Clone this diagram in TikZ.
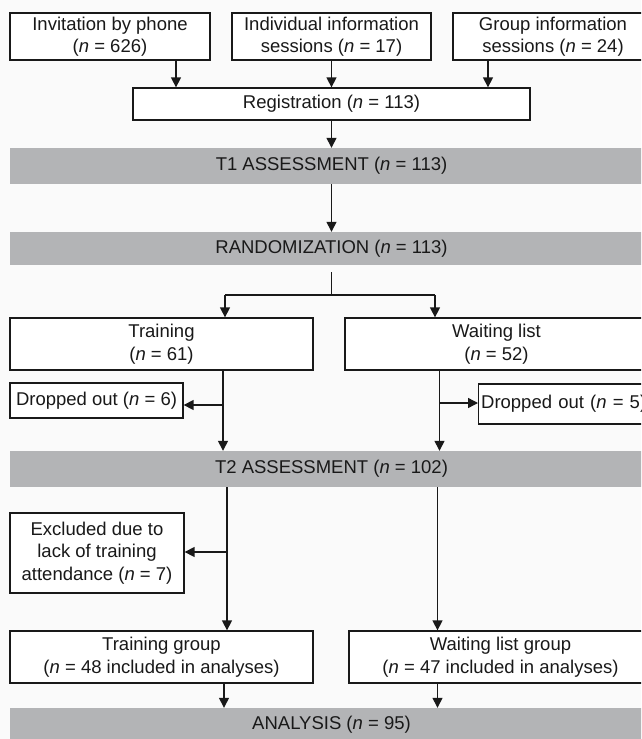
\documentclass[tikz,border=0pt]{standalone}
\usepackage{fontspec}
\setmainfont{Liberation Sans}
\usetikzlibrary{arrows.meta}
\definecolor{bandgray}{RGB}{179,180,182}
\definecolor{bgwhite}{RGB}{250,250,250}
\definecolor{ink}{RGB}{25,25,25}
\begin{document}
\begin{tikzpicture}[x=1pt,y=-1pt,
  every node/.style={font=\fontsize{18.5}{22.5}\selectfont, text=ink},
  box/.style={draw=ink, line width=1.3pt, fill=white, align=center, inner sep=0pt},
  band/.style={fill=bandgray, draw=none, inner sep=0pt, minimum width=643pt},
  arr/.style={draw=ink, line width=1.4pt, -{Triangle[width=10pt,length=10pt]}},
  ln/.style={draw=ink, line width=1.4pt}]
\useasboundingbox (0,0) rectangle (641,739);
\clip (0,0) rectangle (641,739);
\fill[bgwhite] (0,0) rectangle (641,739);

% top boxes
\node[box, minimum width=200pt, minimum height=47pt] (b1) at (110,36.5) {Invitation by phone\\(\textit{n} = 626)};
\node[box, minimum width=199pt, minimum height=47pt] (b2) at (331.5,36.5) {Individual information\\sessions (\textit{n} = 17)};
\node[box, minimum width=200pt, minimum height=47pt] (b3) at (553,36.5) {Group information\\sessions (\textit{n} = 24)};
\node[box, minimum width=397pt, minimum height=32pt] (reg) at (331.5,104) {Registration (\textit{n} = 113)};

% bands
\node[band, minimum height=36pt] (t1) at (331.5,166) {T1 ASSESSMENT (\textit{n} = 113)};
\node[band, minimum height=33pt] (rand) at (331.5,248.5) {RANDOMIZATION (\textit{n} = 113)};
\node[band, minimum height=36pt] (t2) at (331.5,469) {T2 ASSESSMENT (\textit{n} = 102)};
\node[band, minimum height=34pt] (ana) at (331.5,725) {ANALYSIS (\textit{n} = 95)};

% arms
\node[box, minimum width=303pt, minimum height=52pt] (train) at (161.5,344) {Training\\(\textit{n} = 61)};
\node[box, minimum width=303pt, minimum height=52pt] (wait) at (496.5,344) {Waiting list\\(\textit{n} = 52)};
\node[box, minimum width=173pt, minimum height=35pt] (dl) at (96.5,400.5) {Dropped out (\textit{n} = 6)};
\node[box, minimum width=170pt, minimum height=40pt, anchor=west, text width=168pt, align=left] (dr) at (478,404) {\hspace{1.5pt}Dropped out (\textit{n} = 5)};
\node[box, minimum width=174pt, minimum height=80pt] (ex) at (97,553) {Excluded due to\\lack of training\\attendance (\textit{n} = 7)};
\node[box, minimum width=303pt, minimum height=52pt] (tg) at (161.5,657) {Training group\\(\textit{n} = 48 included in analyses)};
\node[box, minimum width=303pt, minimum height=52pt] (wg) at (500.5,657) {Waiting list group\\(\textit{n} = 47 included in analyses)};

% connectors top
\draw[arr] ([xshift=66pt]b1.south) -- ([xshift=66pt]b1.south |- reg.north);
\draw[arr] (b2.south) -- (b2.south |- reg.north);
\draw[arr] ([xshift=-65pt]b3.south) -- ([xshift=-65pt]b3.south |- reg.north);
\draw[arr] (reg.south) -- (t1.north);
\draw[arr] (t1.south) -- (rand.north);

% randomization split
\coordinate (sp) at (331.5,295);
\coordinate (sl) at (225,295);
\coordinate (sr) at (435,295);
\draw[ln] ([yshift=-7pt]rand.south) -- (sp);
\draw[ln] (sl) -- (sr);
\draw[arr] (sl) -- (sl |- train.north);
\draw[arr] (sr) -- (sr |- wait.north);

% arms to T2
\coordinate (c1) at (223,405);
\coordinate (c2) at (439.5,403);
\draw[arr] (c1 |- train.south) -- (c1 |- t2.north);
\draw[arr] (c1) -- (c1 -| dl.east);
\draw[arr] (c2 |- wait.south) -- (c2 |- t2.north);
\draw[arr] (c2) -- (c2 -| dr.west);

% T2 to groups
\coordinate (c3) at (227,552);
\coordinate (c4) at (437.5,552);
\draw[arr] (c3 |- t2.south) -- (c3 |- tg.north);
\draw[arr] (c3) -- (c3 -| ex.east);
\draw[arr] (c4 |- t2.south) -- (c4 |- wg.north);

% groups to analysis
\coordinate (c5) at (224,700);
\coordinate (c6) at (437.5,700);
\draw[arr] (c5 |- tg.south) -- (c5 |- ana.north);
\draw[arr] (c6 |- wg.south) -- (c6 |- ana.north);
\end{tikzpicture}
\end{document}
